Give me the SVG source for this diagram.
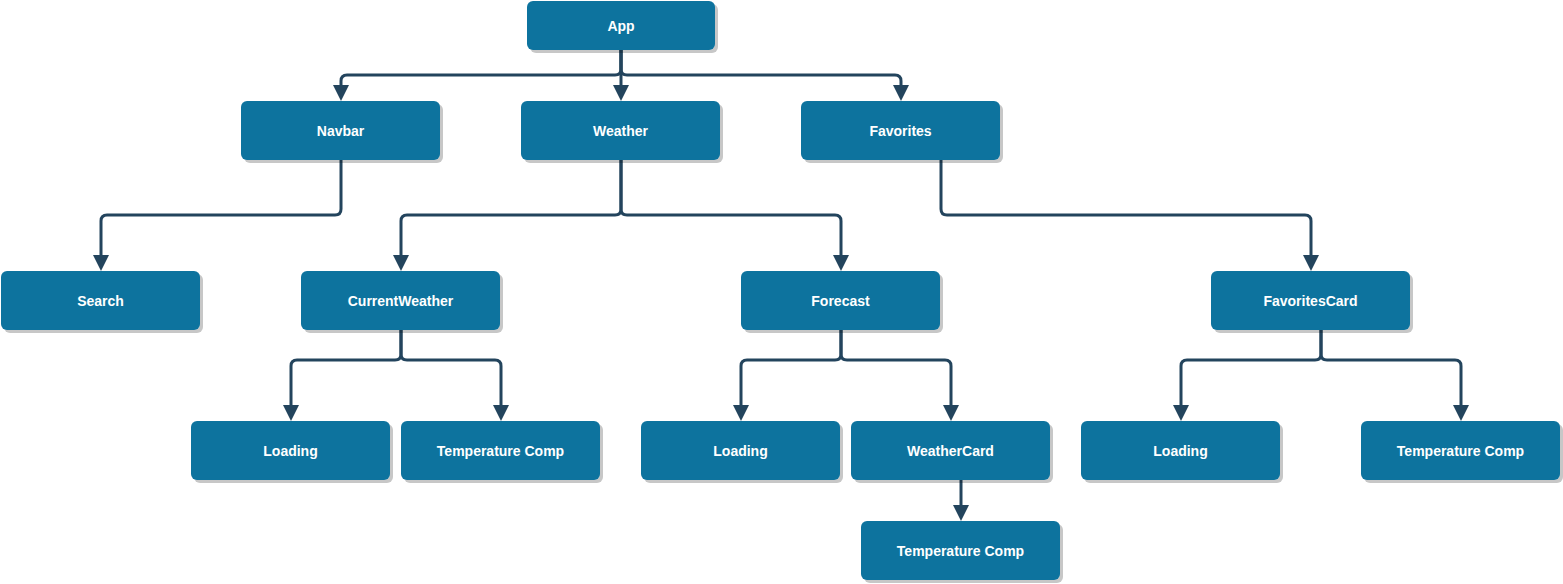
<svg xmlns="http://www.w3.org/2000/svg" width="1563" height="584" viewBox="0 0 1563 584">
  <style>
    .node rect { fill: #10739E; }
    .node text { fill: #FFFFFF; font-family: "Liberation Sans", Arial, sans-serif; font-size: 14px; font-weight: bold; text-anchor: middle; }
    .edge { fill: none; stroke: #23445D; stroke-width: 3; marker-end: url(#arrow); }
  </style>
  <defs>
    <filter id="shadow" x="-10%" y="-10%" width="120%" height="130%">
      <feDropShadow dx="3" dy="3" stdDeviation="0.6" flood-color="#000" flood-opacity="0.22"/>
    </filter>
    <marker id="arrow" markerUnits="userSpaceOnUse" markerWidth="18" markerHeight="18" viewBox="0 0 18 18" refX="1" refY="9" orient="auto">
      <path d="M1,1 L17,9 L1,17 z" fill="#23445D"/>
    </marker>
  </defs>
  <rect width="1563" height="584" fill="#FFFFFF"/>
  <g id="connectors">
    <path class="edge" d="M621 50 V69 Q621 75 615 75 H347 Q341 75 341 81 V85"/>
    <path class="edge" d="M621 50 V85"/>
    <path class="edge" d="M621 50 V69 Q621 75 627 75 H895 Q901 75 901 81 V85"/>
    <path class="edge" d="M341 160 V209 Q341 215 335 215 H107 Q101 215 101 221 V255"/>
    <path class="edge" d="M621 160 V209 Q621 215 615 215 H407 Q401 215 401 221 V255"/>
    <path class="edge" d="M621 160 V209 Q621 215 627 215 H835 Q841 215 841 221 V255"/>
    <path class="edge" d="M941 160 V209 Q941 215 947 215 H1305 Q1311 215 1311 221 V255"/>
    <path class="edge" d="M401 330 V354 Q401 360 395 360 H297 Q291 360 291 366 V405"/>
    <path class="edge" d="M401 330 V354 Q401 360 407 360 H495 Q501 360 501 366 V405"/>
    <path class="edge" d="M841 330 V354 Q841 360 835 360 H747 Q741 360 741 366 V405"/>
    <path class="edge" d="M841 330 V354 Q841 360 847 360 H945 Q951 360 951 366 V405"/>
    <path class="edge" d="M1321 330 V354 Q1321 360 1315 360 H1187 Q1181 360 1181 366 V405"/>
    <path class="edge" d="M1321 330 V354 Q1321 360 1327 360 H1455 Q1461 360 1461 366 V405"/>
    <path class="edge" d="M961 480 V505"/>
  </g>
  <g id="node-app" class="node"><rect x="527" y="1" width="188" height="49" rx="6" filter="url(#shadow)"/><text x="621" y="30.5">App</text></g>
  <g id="node-navbar" class="node"><rect x="241" y="101" width="199" height="59" rx="6" filter="url(#shadow)"/><text x="340.5" y="135.5">Navbar</text></g>
  <g id="node-weather" class="node"><rect x="521" y="101" width="199" height="59" rx="6" filter="url(#shadow)"/><text x="620.5" y="135.5">Weather</text></g>
  <g id="node-favorites" class="node"><rect x="801" y="101" width="199" height="59" rx="6" filter="url(#shadow)"/><text x="900.5" y="135.5">Favorites</text></g>
  <g id="node-search" class="node"><rect x="1" y="271" width="199" height="59" rx="6" filter="url(#shadow)"/><text x="100.5" y="305.5">Search</text></g>
  <g id="node-currentweather" class="node"><rect x="301" y="271" width="199" height="59" rx="6" filter="url(#shadow)"/><text x="400.5" y="305.5">CurrentWeather</text></g>
  <g id="node-forecast" class="node"><rect x="741" y="271" width="199" height="59" rx="6" filter="url(#shadow)"/><text x="840.5" y="305.5">Forecast</text></g>
  <g id="node-favoritescard" class="node"><rect x="1211" y="271" width="199" height="59" rx="6" filter="url(#shadow)"/><text x="1310.5" y="305.5">FavoritesCard</text></g>
  <g id="node-loading1" class="node"><rect x="191" y="421" width="199" height="59" rx="6" filter="url(#shadow)"/><text x="290.5" y="455.5">Loading</text></g>
  <g id="node-temp1" class="node"><rect x="401" y="421" width="199" height="59" rx="6" filter="url(#shadow)"/><text x="500.5" y="455.5">Temperature Comp</text></g>
  <g id="node-loading2" class="node"><rect x="641" y="421" width="199" height="59" rx="6" filter="url(#shadow)"/><text x="740.5" y="455.5">Loading</text></g>
  <g id="node-weathercard" class="node"><rect x="851" y="421" width="199" height="59" rx="6" filter="url(#shadow)"/><text x="950.5" y="455.5">WeatherCard</text></g>
  <g id="node-loading3" class="node"><rect x="1081" y="421" width="199" height="59" rx="6" filter="url(#shadow)"/><text x="1180.5" y="455.5">Loading</text></g>
  <g id="node-temp3" class="node"><rect x="1361" y="421" width="199" height="59" rx="6" filter="url(#shadow)"/><text x="1460.5" y="455.5">Temperature Comp</text></g>
  <g id="node-temp2" class="node"><rect x="861" y="521" width="199" height="59" rx="6" filter="url(#shadow)"/><text x="960.5" y="555.5">Temperature Comp</text></g>
</svg>
